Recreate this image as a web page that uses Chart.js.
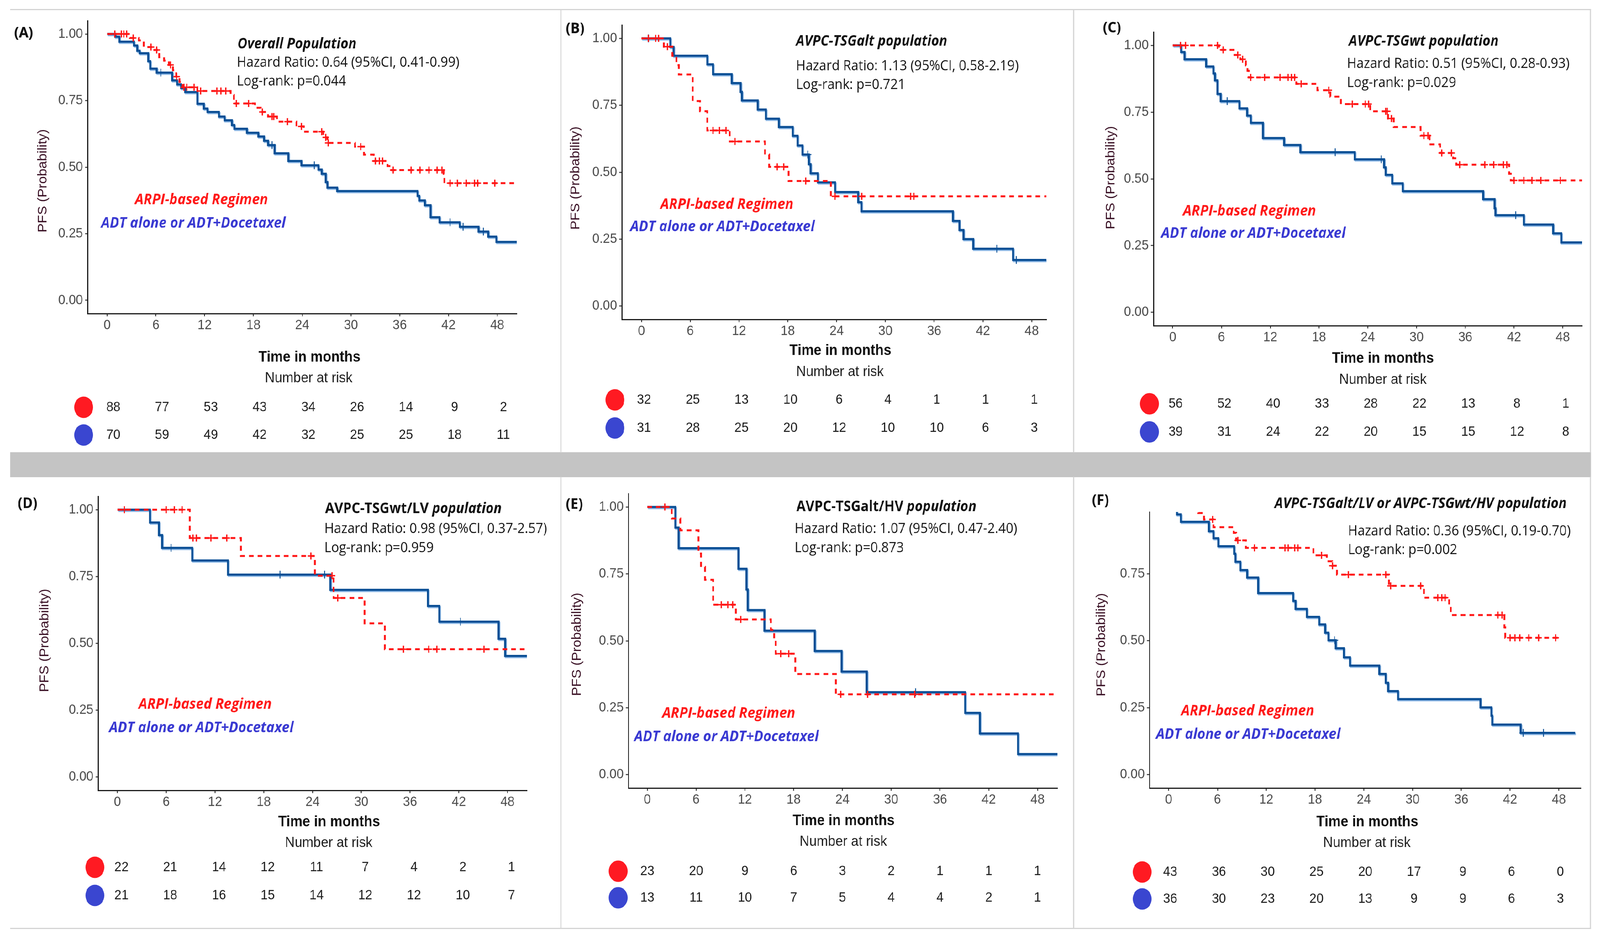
<!DOCTYPE html>
<html><head><meta charset="utf-8">
<script src="https://cdn.jsdelivr.net/npm/chart.js@4"></script>
<style>
html,body{margin:0;padding:0;background:#fff;overflow:hidden;}
#root{width:4400px;height:2402px;position:absolute;left:0;top:0;transform-origin:0 0;background:#fff;}
canvas{position:absolute;}
.ln{position:absolute;background:#d4d4d4;}
.band{position:absolute;background:#c4c4c4;}
</style></head><body>
<div id="root">
<div class="ln" style="left:28px;top:23px;width:4347px;height:3px"></div>
<div class="band" style="left:28px;top:1158px;width:4347px;height:64px"></div>
<div class="ln" style="left:28px;top:2376px;width:4347px;height:3px"></div>
<div class="ln" style="left:1541px;top:23px;width:3px;height:1136px"></div>
<div class="ln" style="left:2951px;top:23px;width:3px;height:1136px"></div>
<div class="ln" style="left:4372px;top:23px;width:3px;height:1136px"></div>
<div class="ln" style="left:1541px;top:1221px;width:3px;height:1157px"></div>
<div class="ln" style="left:2951px;top:1221px;width:3px;height:1157px"></div>
<div class="ln" style="left:4372px;top:1221px;width:3px;height:1157px"></div>
<canvas id="cA"></canvas><canvas id="cB"></canvas><canvas id="cC"></canvas>
<canvas id="cD"></canvas><canvas id="cE"></canvas><canvas id="cF"></canvas>
</div>
<script>
// ---------- tick labels / shared text ----------
const xTicks = [0, 6, 12, 18, 24, 30, 36, 42, 48];
const yTicks = [0, 0.25, 0.5, 0.75, 1];
const ARM_RED = 'ARPI-based Regimen';
const ARM_BLUE = 'ADT alone or ADT+Docetaxel';
const Y_TITLE = 'PFS (Probability)';
const X_TITLE = 'Time in months';
const NAR = 'Number at risk';

// ---------- Panel A : Overall Population ----------
const A_red_t = [0, 2.8, 3.9, 4.5, 5.8, 6.4, 7.0, 7.6, 8.1, 8.5, 8.9, 9.3, 11.1, 15.2, 15.6, 18.2, 18.9, 19.8, 20.9, 23.3, 24.2, 26.6, 27.1, 30.5, 31.6, 32.8, 34.5, 35.0, 41.4, 41.5, 50.4];
const A_red_s = [1, 0.985, 0.976, 0.951, 0.94, 0.913, 0.90, 0.884, 0.864, 0.84, 0.82, 0.80, 0.786, 0.771, 0.739, 0.723, 0.707, 0.69, 0.671, 0.653, 0.633, 0.612, 0.591, 0.577, 0.547, 0.523, 0.504, 0.489, 0.475, 0.44, 0.44];
const A_red_cens = [0.95, 1.75, 2.05, 2.4, 3.2, 5.4, 6.1, 7.8, 8.55, 9.45, 9.8, 10.7, 11.5, 13.5, 14.0, 14.6, 15.9, 17.4, 19.1, 20.3, 20.5, 22.2, 23.9, 26.4, 26.9, 27.2, 31.2, 33.0, 33.5, 33.9, 35.2, 37.4, 38.5, 39.6, 40.6, 41.2, 42.2, 43.1, 44.2, 45.2, 45.6, 47.7];
const A_blue_t = [0, 1.0, 1.5, 3.3, 3.7, 4.0, 5.05, 5.3, 6.1, 8.0, 8.6, 9.1, 9.6, 11.1, 11.9, 12.35, 13.75, 14.45, 15.35, 15.65, 17.2, 18.6, 19.3, 19.8, 20.6, 22.3, 23.9, 26.0, 26.4, 26.9, 27.1, 28.3, 38.2, 38.4, 39.1, 39.8, 40.9, 43.4, 45.7, 46.9, 47.9, 50.4];
const A_blue_s = [1, 0.99, 0.971, 0.957, 0.937, 0.928, 0.898, 0.87, 0.855, 0.826, 0.811, 0.797, 0.782, 0.738, 0.72, 0.707, 0.69, 0.676, 0.658, 0.644, 0.629, 0.615, 0.599, 0.583, 0.552, 0.523, 0.507, 0.491, 0.475, 0.444, 0.423, 0.41, 0.392, 0.375, 0.357, 0.312, 0.293, 0.276, 0.258, 0.239, 0.219, 0.219];
const A_blue_cens = [6.6, 20.3, 25.5, 42.2, 43.8, 46.3];
const A_risk_red = [88, 77, 53, 43, 34, 26, 14, 9, 2];
const A_risk_blue = [70, 59, 49, 42, 32, 25, 25, 18, 11];

// ---------- Panel B : AVPC-TSGalt ----------
const B_red_t = [0, 2.75, 3.8, 4.3, 4.6, 6.3, 7.2, 8.1, 10.85, 15.2, 15.7, 18.1, 23.3, 49.8];
const B_red_s = [1, 0.969, 0.935, 0.90, 0.865, 0.766, 0.728, 0.656, 0.615, 0.566, 0.52, 0.467, 0.41, 0.41];
const B_red_cens = [0.85, 1.75, 2.1, 3.2, 8.8, 9.6, 10.4, 11.5, 16.7, 17.5, 20.2, 23.8, 27.1, 33.1, 33.5];
const B_blue_t = [0, 3.55, 3.95, 8.1, 8.8, 11.1, 12.2, 12.35, 14.3, 15.3, 16.9, 18.6, 19.2, 19.8, 20.6, 20.8, 21.7, 23.8, 26.65, 27.05, 38.3, 39.1, 39.6, 40.8, 45.7, 49.8];
const B_blue_s = [1, 0.968, 0.935, 0.903, 0.866, 0.833, 0.80, 0.768, 0.734, 0.70, 0.669, 0.636, 0.60, 0.566, 0.53, 0.496, 0.462, 0.426, 0.388, 0.354, 0.318, 0.284, 0.25, 0.214, 0.172, 0.172];
const B_blue_cens = [0.85, 20.45, 43.7, 46.1];
const B_risk_red = [32, 25, 13, 10, 6, 4, 1, 1, 1];
const B_risk_blue = [31, 28, 25, 20, 12, 10, 10, 6, 3];

// ---------- Panel C : AVPC-TSGwt ----------
const C_red_t = [0, 5.7, 7.6, 8.3, 9.0, 9.2, 9.35, 15.2, 17.8, 19.4, 20.7, 24.3, 26.5, 27.2, 30.5, 31.6, 32.9, 34.5, 34.9, 41.4, 41.6, 50.4];
const C_red_s = [1, 0.983, 0.964, 0.948, 0.925, 0.905, 0.88, 0.856, 0.832, 0.808, 0.78, 0.753, 0.726, 0.694, 0.662, 0.629, 0.597, 0.577, 0.553, 0.519, 0.494, 0.494];
const C_red_cens = [0.95, 1.57, 5.5, 6.2, 8.0, 8.6, 9.6, 11.3, 13.2, 14.2, 14.6, 15.0, 15.8, 19.2, 22.1, 23.7, 24.1, 26.2, 26.4, 26.9, 30.9, 31.4, 33.1, 34.3, 35.3, 38.4, 39.5, 40.7, 41.1, 42.0, 43.2, 44.2, 45.3, 47.7];
const C_blue_t = [0, 1.03, 1.45, 4.1, 5.0, 5.2, 5.5, 5.9, 8.2, 9.15, 9.6, 11.1, 13.7, 15.7, 22.4, 26.0, 26.2, 27.0, 28.3, 38.2, 39.6, 39.7, 43.2, 46.8, 47.8, 50.4];
const C_blue_s = [1, 0.975, 0.948, 0.921, 0.895, 0.869, 0.818, 0.791, 0.764, 0.737, 0.71, 0.653, 0.627, 0.60, 0.573, 0.543, 0.515, 0.483, 0.454, 0.424, 0.39, 0.364, 0.329, 0.296, 0.262, 0.262];
const C_blue_cens = [6.7, 20.0, 25.65, 42.2];
const C_risk_red = [56, 52, 40, 33, 28, 22, 13, 8, 1];
const C_risk_blue = [39, 31, 24, 22, 20, 15, 15, 12, 8];

// ---------- Panel D : AVPC-TSGwt/LV ----------
const D_red_t = [0, 8.9, 15.2, 24.3, 26.6, 30.4, 32.9, 50.4];
const D_red_s = [1, 0.894, 0.827, 0.753, 0.67, 0.575, 0.478, 0.478];
const D_red_cens = [0.85, 6.0, 7.0, 7.95, 9.3, 9.7, 11.5, 13.45, 23.8, 26.4, 27.1, 35.2, 38.3, 39.3, 45.1];
const D_blue_t = [0, 4.0, 5.1, 5.5, 9.2, 13.6, 26.2, 38.2, 39.6, 46.9, 47.7, 50.4];
const D_blue_s = [1, 0.952, 0.905, 0.857, 0.81, 0.757, 0.70, 0.64, 0.581, 0.517, 0.453, 0.453];
const D_blue_cens = [6.6, 20.0, 25.5, 42.2];
const D_risk_red = [22, 21, 14, 12, 11, 7, 4, 2, 1];
const D_risk_blue = [21, 18, 16, 15, 14, 12, 12, 10, 7];

// ---------- Panel E : AVPC-TSGalt/HV ----------
const E_red_t = [0, 3.0, 4.05, 6.3, 6.6, 7.1, 8.1, 10.9, 15.2, 15.6, 15.8, 18.2, 23.2, 50.4];
const E_red_s = [1, 0.957, 0.913, 0.826, 0.776, 0.728, 0.635, 0.58, 0.541, 0.502, 0.452, 0.376, 0.30, 0.30];
const E_red_cens = [2.15, 9.1, 9.9, 10.5, 11.5, 16.4, 17.4, 23.8, 27.1, 32.9];
const E_blue_t = [0, 3.45, 3.85, 11.2, 12.2, 12.35, 14.4, 20.6, 23.9, 27.0, 39.1, 40.9, 45.6, 50.45];
const E_blue_s = [1, 0.923, 0.846, 0.769, 0.692, 0.615, 0.538, 0.462, 0.385, 0.308, 0.231, 0.154, 0.077, 0.077];
const E_blue_cens = [33.0];
const E_risk_red = [23, 20, 9, 6, 3, 2, 1, 1, 1];
const E_risk_blue = [13, 11, 10, 7, 5, 4, 4, 2, 1];

// ---------- Panel F : AVPC-TSGalt/LV or AVPC-TSGwt/HV ----------
const F_red_t = [0, 3.65, 4.35, 5.5, 8.0, 8.3, 9.5, 17.8, 19.45, 20.1, 20.7, 27.1, 31.4, 34.5, 34.7, 41.3, 41.4, 48.0];
const F_red_s = [1, 0.977, 0.953, 0.924, 0.903, 0.875, 0.847, 0.819, 0.797, 0.78, 0.747, 0.705, 0.661, 0.635, 0.596, 0.55, 0.511, 0.511];
const F_red_cens = [5.4, 8.5, 10.55, 14.3, 14.7, 15.5, 15.9, 18.8, 20.15, 22.1, 26.7, 27.3, 31.0, 33.1, 33.6, 34.0, 40.5, 41.0, 42.0, 42.6, 43.2, 44.3, 45.5, 47.6];
const F_blue_t = [0, 1.0, 1.5, 4.95, 5.5, 6.1, 8.05, 8.2, 8.8, 9.65, 11.0, 15.3, 15.6, 17.0, 18.5, 19.25, 19.65, 20.55, 21.55, 22.3, 25.9, 26.7, 27.0, 28.2, 38.35, 39.7, 39.8, 43.3, 50.0];
const F_blue_s = [1, 0.972, 0.944, 0.909, 0.883, 0.853, 0.825, 0.795, 0.764, 0.736, 0.678, 0.649, 0.619, 0.589, 0.561, 0.53, 0.502, 0.472, 0.438, 0.407, 0.376, 0.343, 0.312, 0.282, 0.251, 0.22, 0.187, 0.156, 0.156];
const F_blue_cens = [20.4, 43.6, 46.1];
const F_risk_red = [43, 36, 30, 25, 20, 17, 9, 6, 0];
const F_risk_blue = [36, 30, 23, 20, 13, 9, 9, 6, 3];

// ---------- styles ----------
const RED = '#ff1616', BLUE = '#0b4f95';
const RED_T = '#ff1a1a', BLUE_T = '#3a3ad2';
const RED_DOT = '#ff1a22', BLUE_DOT = '#3a46d0';
const FT = '"Open Sans", "DejaVu Sans", sans-serif';
const FA = '"Liberation Sans", Arial, sans-serif';

// fit the 4400 x 2402 design to the whole viewport
const SX = (window.innerWidth || 4400) / 4400;
const SY = (window.innerHeight || 2402) / 2402;
document.getElementById('root').style.transform = 'scale(' + SX + ',' + SY + ')';
const DPR = (window.devicePixelRatio || 1) * Math.max(SX, SY);

const PANELS = [
 {id:'A', canvas:[30,26,1510,1128], area:[241,49,1421,803], xr:[-2.4,50.4], yr:[-0.05,1.05],
  rt:A_red_t, rs:A_red_s, rc:A_red_cens, bt:A_blue_t, bs:A_blue_s, bc:A_blue_cens, nr:A_risk_red, nb:A_risk_blue,
  label:'(A)', title:[['Overall Population','italic bold']], hr:'Hazard Ratio: 0.64 (95%CI, 0.41-0.99)', lr:'Log-rank: p=0.044',
  pL:[39,85], pT:[653,113], pH:[651,161], pLr:209, pA:[371,512], pB:[278,572], pY:[118,463], pX:[851,916], pN:[849,969], cx:230, rows:[1043,1114], dx:17},
 {id:'B', canvas:[1546,26,1404,1128], area:[1710,64,2878,818], xr:[-2.415,49.82], yr:[-0.05,1.05],
  rt:B_red_t, rs:B_red_s, rc:B_red_cens, bt:B_blue_t, bs:B_blue_s, bc:B_blue_cens, nr:B_risk_red, nb:B_risk_blue,
  label:'(B)', title:[['AVPC-TSGalt population','italic bold']], hr:'Hazard Ratio: 1.13 (95%CI, 0.58-2.19)', lr:'Log-rank: p=0.721',
  pL:[1556,74], pT:[2189,106], pH:[2189,170], pLr:218, pA:[1816,524], pB:[1733,581], pY:[1583,456], pX:[2311,899], pN:[2310,953], cx:1691, rows:[1024,1096], dx:7},
 {id:'C', canvas:[2956,26,1414,1128], area:[3172,82,4351,834], xr:[-2.37,50.38], yr:[-0.05,1.05],
  rt:C_red_t, rs:C_red_s, rc:C_red_cens, bt:C_blue_t, bs:C_blue_s, bc:C_blue_cens, nr:C_risk_red, nb:C_risk_blue,
  label:'(C)', title:[['AVPC-TSGwt population','italic bold']], hr:'Hazard Ratio: 0.51 (95%CI, 0.28-0.93)', lr:'Log-rank: p=0.029',
  pL:[3033,72], pT:[3709,106], pH:[3704,164], pLr:213, pA:[3253,541], pB:[3193,598], pY:[3055,455], pX:[3803,919], pN:[3803,973], cx:3161, rows:[1034,1106], dx:8},
 {id:'D', canvas:[30,1224,1510,1150], area:[270,1271,1449,2024], xr:[-2.37,50.38], yr:[-0.05,1.05],
  rt:D_red_t, rs:D_red_s, rc:D_red_cens, bt:D_blue_t, bs:D_blue_s, bc:D_blue_cens, nr:D_risk_red, nb:D_risk_blue,
  label:'(D)', title:[['AVPC-TSGwt/LV','bold'],[' population','italic bold']], hr:'Hazard Ratio: 0.98 (95%CI, 0.37-2.57)', lr:'Log-rank: p=0.959',
  pL:[49,1290], pT:[894,1303], pH:[892,1355], pLr:1404, pA:[381,1804], pB:[300,1864], pY:[123,1640], pX:[905,2106], pN:[904,2159], cx:261, rows:[2221,2293], dx:11},
 {id:'E', canvas:[1546,1224,1404,1150], area:[1728,1264,2908,2018], xr:[-2.33,50.45], yr:[-0.05,1.05],
  rt:E_red_t, rs:E_red_s, rc:E_red_cens, bt:E_blue_t, bs:E_blue_s, bc:E_blue_cens, nr:E_risk_red, nb:E_risk_blue,
  label:'(E)', title:[['AVPC-TSGalt/HV','bold'],[' population','italic bold']], hr:'Hazard Ratio: 1.07 (95%CI, 0.47-2.40)', lr:'Log-rank: p=0.873',
  pL:[1556,1292], pT:[2190,1298], pH:[2185,1355], pLr:1404, pA:[1821,1827], pB:[1744,1887], pY:[1587,1650], pX:[2320,2103], pN:[2319,2156], cx:1700, rows:[2231,2299], dx:0},
 {id:'F', canvas:[2956,1224,1414,1150], area:[3161,1311,4347,2018], xr:[-2.37,50.69], yr:[-0.05,0.981],
  rt:F_red_t, rs:F_red_s, rc:F_red_cens, bt:F_blue_t, bs:F_blue_s, bc:F_blue_cens, nr:F_risk_red, nb:F_risk_blue,
  label:'(F)', title:[['AVPC-TSGalt/LV or AVPC-TSGwt/HV population','italic bold']], hr:'Hazard Ratio: 0.36 (95%CI, 0.19-0.70)', lr:'Log-rank: p=0.002',
  pL:[3003,1282], pT:[3505,1290], pH:[3707,1361], pLr:1409, pA:[3248,1821], pB:[3179,1881], pY:[3029,1651], pX:[3760,2106], pN:[3759,2159], cx:3141, rows:[2233,2302], dx:4}
];

function stepAt(ts, ss, t) { let v = ss[0]; for (let i = 0; i < ts.length; i++) { if (ts[i] <= t) v = ss[i]; } return v; }
function pts(ts, ss) { return ts.map((t, i) => ({x: t, y: ss[i]})); }
function cens(ct, ts, ss) { return ct.map(t => ({x: t, y: stepAt(ts, ss, t)})); }

const haloPlugin = {
  id: 'halo',
  beforeDatasetDraw(chart, args) {
    const ds = chart.data.datasets[args.index];
    if (ds.halo) { const c = chart.ctx; c.save(); c.shadowColor = ds.halo; c.shadowOffsetX = 2; c.shadowOffsetY = 3; c.shadowBlur = 1; }
  },
  afterDatasetDraw(chart, args) {
    const ds = chart.data.datasets[args.index];
    if (ds.halo) chart.ctx.restore();
  }
};

function textPlugin(P) {
  return { id: 'kmText' + P.id, afterDraw(chart) {
    const ctx = chart.ctx, ox = P.canvas[0], oy = P.canvas[1];
    const put = (s, x, y, font, color, align) => { ctx.font = font; ctx.fillStyle = color; ctx.textAlign = align || 'left'; ctx.textBaseline = 'middle'; ctx.fillText(s, x, y); };
    ctx.save();
    put(P.label, P.pL[0] - ox, P.pL[1] - oy, 'bold 38px ' + FT, '#111');
    let tx = P.pT[0] - ox;
    for (const [s, f] of P.title) { const font = f + ' 37px ' + FT; put(s, tx, P.pT[1] - oy, font, '#111'); tx += ctx.measureText(s).width; }
    put(P.hr, P.pH[0] - ox, P.pH[1] - oy, '36px ' + FT, '#151515');
    put(P.lr, P.pH[0] - ox, P.pLr - oy, '36px ' + FT, '#151515');
    put(ARM_RED, P.pA[0] - ox, P.pA[1] - oy, 'italic bold 38px ' + FT, RED_T);
    put(ARM_BLUE, P.pB[0] - ox, P.pB[1] - oy, 'italic bold 38px ' + FT, BLUE_T);
    ctx.save();
    ctx.translate(P.pY[0] - ox, P.pY[1] - oy); ctx.rotate(-Math.PI / 2);
    put(Y_TITLE, 0, 0, '35px ' + FA, '#3b1226', 'center');
    ctx.restore();
    put(X_TITLE, P.pX[0] - ox, P.pX[1] - oy, 'bold 38px ' + FA, '#111', 'center');
    put(NAR, P.pN[0] - ox, P.pN[1] - oy, '37px ' + FA, '#1e1e1e', 'center');
    ctx.fillStyle = RED_DOT; ctx.beginPath(); ctx.ellipse(P.cx - ox, P.rows[0] - oy, 26, 27.5, 0, 0, Math.PI * 2); ctx.fill();
    ctx.fillStyle = BLUE_DOT; ctx.beginPath(); ctx.ellipse(P.cx - ox, P.rows[1] - oy, 26, 27.5, 0, 0, Math.PI * 2); ctx.fill();
    const xs = chart.scales.x;
    xTicks.forEach((t, i) => {
      const px = xs.getPixelForValue(t) + P.dx;
      put(String(P.nr[i]), px, P.rows[0] - oy, '35px ' + FA, '#1e1e1e', 'center');
      put(String(P.nb[i]), px, P.rows[1] - oy, '35px ' + FA, '#1e1e1e', 'center');
    });
    ctx.restore();
  }};
}

function makeChart(P) {
  const cv = document.getElementById('c' + P.id);
  const [cx, cy, cw, ch] = P.canvas;
  cv.style.left = cx + 'px'; cv.style.top = cy + 'px';
  cv.style.width = cw + 'px'; cv.style.height = ch + 'px';
  cv.width = cw; cv.height = ch;
  const [al, at, ar, ab] = P.area;
  const WY = 150, HX = 80;
  const pad = {left: al - cx - WY, top: at - cy, right: cx + cw - ar, bottom: cy + ch - ab - HX};
  const gridOpt = {display: true, drawOnChartArea: false, drawTicks: true, tickLength: 7, tickWidth: 2.5, tickColor: '#333'};
  const borderOpt = {display: true, color: '#1a1a1a', width: 3};
  new Chart(cv, {
    type: 'line',
    data: { datasets: [
      {data: cens(P.rc, P.rt, P.rs), showLine: false, pointStyle: 'cross', pointRadius: 9, pointBorderWidth: 3.5, pointBorderColor: RED, borderColor: RED, backgroundColor: RED},
      {data: pts(P.rt, P.rs), stepped: true, borderColor: RED, borderWidth: 5, borderDash: [13, 11], pointRadius: 0, fill: false, borderCapStyle: 'butt'},
      {data: cens(P.bc, P.bt, P.bs), showLine: false, pointStyle: 'cross', pointRadius: 10, pointBorderWidth: 2.5, pointBorderColor: BLUE, borderColor: BLUE, backgroundColor: BLUE},
      {data: pts(P.bt, P.bs), stepped: true, borderColor: BLUE, borderWidth: 5.5, pointRadius: 0, fill: false, halo: 'rgba(120,170,225,0.85)'}
    ]},
    options: {
      responsive: false, maintainAspectRatio: false, animation: false, devicePixelRatio: DPR, events: [],
      layout: {padding: pad},
      plugins: {legend: {display: false}, tooltip: {enabled: false}},
      scales: {
        x: {type: 'linear', min: P.xr[0], max: P.xr[1],
            afterBuildTicks: s => { s.ticks = xTicks.map(v => ({value: v})); },
            afterFit: s => { s.height = HX; },
            grid: gridOpt, border: borderOpt,
            ticks: {color: '#4d4d4d', font: {family: FA, size: 35}, padding: 2, maxRotation: 0, autoSkip: false, callback: v => String(v)}},
        y: {type: 'linear', min: P.yr[0], max: P.yr[1],
            afterBuildTicks: s => { s.ticks = yTicks.filter(v => v <= P.yr[1]).map(v => ({value: v})); },
            afterFit: s => { s.width = WY; },
            grid: gridOpt, border: borderOpt,
            ticks: {color: '#4d4d4d', font: {family: FA, size: 35}, padding: 6, autoSkip: false, callback: v => Number(v).toFixed(2)}}
      }
    },
    plugins: [haloPlugin, textPlugin(P)]
  });
}
PANELS.forEach(makeChart);
</script>
</body></html>
